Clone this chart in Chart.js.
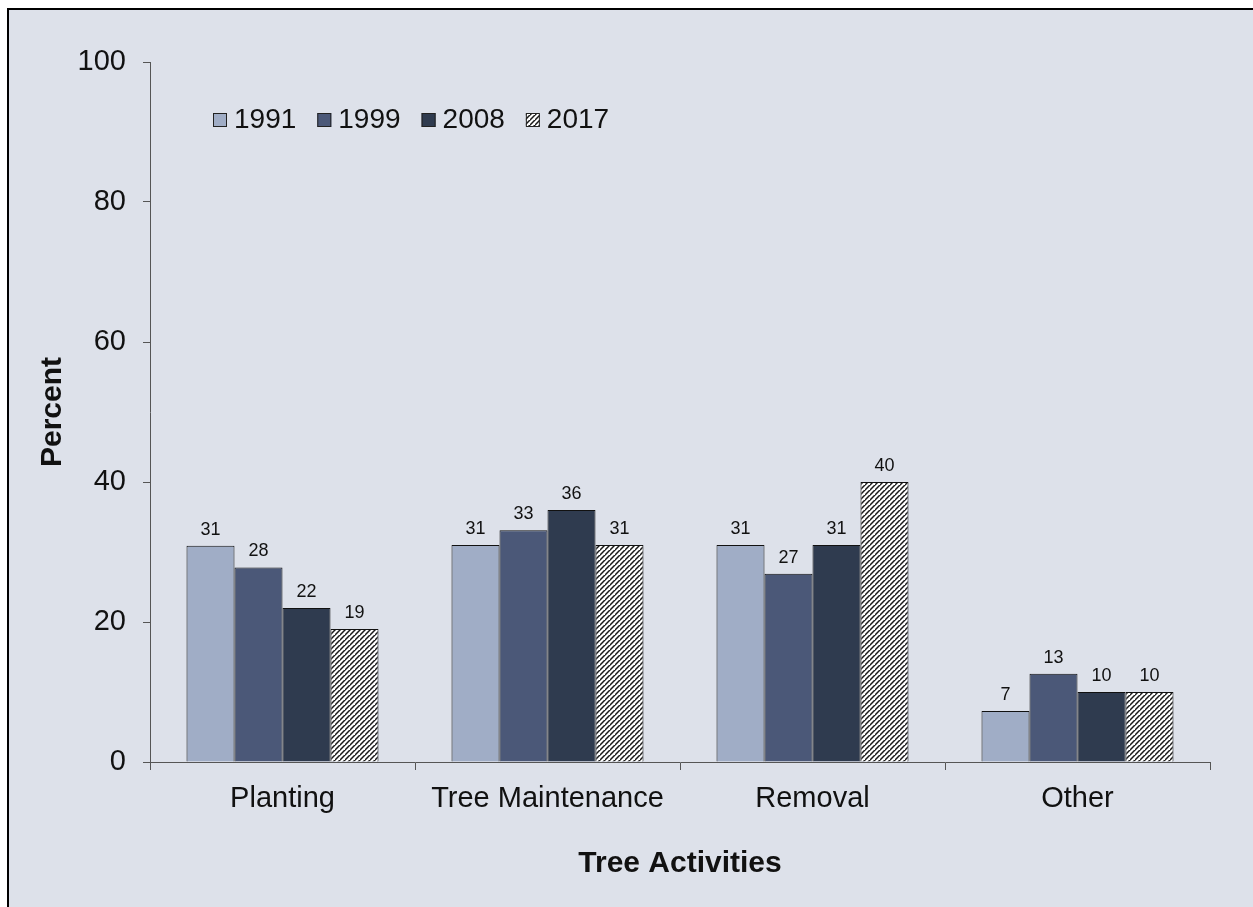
<!DOCTYPE html>
<html>
<head>
<meta charset="utf-8">
<script src="https://cdn.jsdelivr.net/npm/chart.js@4/dist/chart.umd.min.js"></script>
<style>
  html, body { margin: 0; padding: 0; background: #ffffff; }
  #box { position: absolute; left: 7px; top: 8px; width: 1246px; height: 899px;
         border-left: 2px solid #000; border-top: 2px solid #000; background: #dde1ea; box-sizing: border-box; }
  #wrap { position: absolute; left: 0; top: 0; width: 1253px; height: 907px; }
</style>
</head>
<body>
<div id="box"></div>
<div id="wrap"><canvas id="c" width="1253" height="907"></canvas></div>
<script>
const categories = ["Planting", "Tree Maintenance", "Removal", "Other"];
const seriesNames = ["1991", "1999", "2008", "2017"];
const v1991 = [30.9, 31.0, 31.0, 7.3];
const v1999 = [27.8, 33.1, 26.9, 12.6];
const v2008 = [22.0, 36.0, 31.0, 10.0];
const v2017 = [19.0, 31.0, 40.0, 10.0];
const yTicks = [0, 20, 40, 60, 80, 100];

const FONT = "'Liberation Sans', Arial, sans-serif";

function hatch() {
  const s = 5;
  const c = document.createElement('canvas');
  c.width = s; c.height = s;
  const g = c.getContext('2d');
  g.fillStyle = '#ffffff';
  g.fillRect(0, 0, s, s);
  g.strokeStyle = '#1a1a1a';
  g.lineWidth = 1.5;
  g.beginPath();
  g.moveTo(-1, s + 1); g.lineTo(s + 1, -1);
  g.moveTo(-1 - s, s + 1); g.lineTo(1, -1);
  g.moveTo(s - 1, 2 * s + 1); g.lineTo(2 * s + 1, s - 1);
  g.stroke();
  return g.createPattern(c, 'repeat');
}
const ctx0 = document.getElementById('c').getContext('2d');
const colors = ['#a0adc6', '#4b5878', '#2f3b4f', hatch()];
const values = [v1991, v1999, v2008, v2017];

const dataLabels = {
  id: 'dataLabels',
  afterDatasetsDraw(chart) {
    const ctx = chart.ctx;
    ctx.save();
    ctx.font = '18px ' + FONT;
    ctx.fillStyle = '#111';
    ctx.textAlign = 'center';
    ctx.textBaseline = 'alphabetic';
    chart.data.datasets.forEach((ds, i) => {
      chart.getDatasetMeta(i).data.forEach((bar, j) => {
        ctx.fillText(String(Math.round(ds.data[j])), bar.x, bar.y - 11);
      });
    });
    ctx.restore();
  }
};

const customLegend = {
  id: 'customLegend',
  afterDraw(chart) {
    const ctx = chart.ctx;
    ctx.save();
    ctx.font = '28px ' + FONT;
    ctx.textBaseline = 'alphabetic';
    ctx.textAlign = 'left';
    let x = 213;
    const yb = 127;
    chart.data.datasets.forEach((ds) => {
      ctx.fillStyle = ds.backgroundColor;
      ctx.fillRect(x, yb - 14, 14, 14);
      ctx.strokeStyle = '#222';
      ctx.lineWidth = 1;
      ctx.strokeRect(x + 0.5, yb - 13.5, 13, 13);
      ctx.fillStyle = '#111';
      ctx.fillText(ds.label, x + 21, yb + 1);
      x += 21 + ctx.measureText(ds.label).width + 21;
    });
    ctx.restore();
  }
};

new Chart(ctx0, {
  type: 'bar',
  data: {
    labels: categories,
    datasets: seriesNames.map((n, i) => ({
      label: n,
      data: values[i],
      backgroundColor: colors[i],
      borderColor: '#111',
      borderWidth: 1,
      categoryPercentage: 0.7245,
      barPercentage: 1.0
    }))
  },
  options: {
    responsive: false,
    animation: false,
    layout: { padding: { top: 62, right: 43, bottom: 0, left: 0 } },
    plugins: { legend: { display: false }, tooltip: { enabled: false } },
    scales: {
      x: {
        offset: true,
        grid: { display: true, drawOnChartArea: false, offset: true, tickLength: 8, color: '#555', lineWidth: 1 },
        border: { display: true, color: '#555', width: 1 },
        ticks: { color: '#111', font: { family: FONT, size: 29 }, padding: 12 },
        title: { display: true, text: 'Tree Activities', color: '#111',
                 font: { family: FONT, size: 30, weight: 'bold' }, padding: { top: 0, bottom: 25 } },
        afterFit(scale) { scale.height = 145; }
      },
      y: {
        min: 0, max: 100,
        afterBuildTicks(scale) { scale.ticks = yTicks.map(v => ({ value: v })); },
        grid: { display: true, drawOnChartArea: false, tickLength: 7, color: '#555', lineWidth: 1 },
        border: { display: true, color: '#555', width: 1 },
        ticks: { color: '#111', font: { family: FONT, size: 29 }, padding: 17 },
        title: { display: true, text: 'Percent', color: '#111',
                 font: { family: FONT, size: 30, weight: 'bold' }, padding: { top: 35, bottom: 0 } },
        afterFit(scale) { scale.width = 150; }
      }
    }
  },
  plugins: [dataLabels, customLegend]
});
</script>
</body>
</html>
